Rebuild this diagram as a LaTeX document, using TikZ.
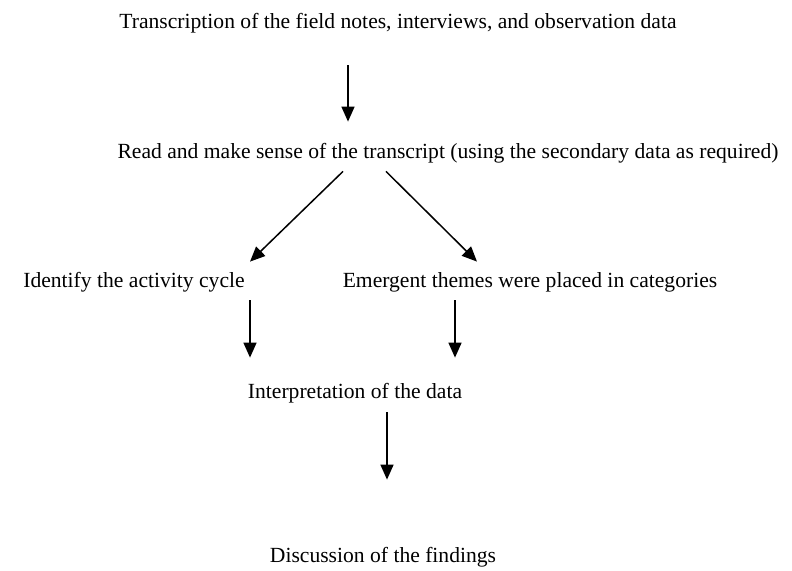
\documentclass[tikz,border=0pt]{standalone}
\usepackage{fontspec}
\setmainfont{Liberation Serif}
\usetikzlibrary{arrows.meta}
\begin{document}
\begin{tikzpicture}[x=0.5pt, y=-0.5pt, >={Triangle[length=7.5pt, width=6.5pt]},
  step text/.style={anchor=base, inner sep=0pt, text height=7pt, text depth=2.5pt,
    font=\fontsize{10.8}{12}\selectfont},
  flow/.style={->, line width=0.75pt}]
  \useasboundingbox (0,0) rectangle (792,570);
  \node[step text] (t1) at (398,28) {Transcription of the field notes, interviews, and observation data};
  \node[step text] (t2) at (448,158) {Read and make sense of the transcript (using the secondary data as required)};
  \node[step text] (t3) at (134,287) {Identify the activity cycle};
  \node[step text] (t4) at (530,287) {Emergent themes were placed in categories};
  \node[step text] (t5) at (355,398) {Interpretation of the data};
  \node[step text] (t6) at (383,562) {Discussion of the findings};
  \draw[flow] ([xshift=-25pt,yshift=-16pt]t1.south) -- ([xshift=-50pt,yshift=11pt]t2.north);
  \draw[flow] ([xshift=-52.5pt,yshift=-4pt]t2.south) -- ([xshift=58pt,yshift=5.5pt]t3.north);
  \draw[flow] ([xshift=-31pt,yshift=-4pt]t2.south) -- ([xshift=-26.5pt,yshift=5.5pt]t4.north);
  \draw[flow] ([xshift=58pt,yshift=-4pt]t3.south) -- ([xshift=-52.5pt,yshift=13pt]t5.north);
  \draw[flow] ([xshift=-37.5pt,yshift=-4pt]t4.south) -- ([xshift=50pt,yshift=13pt]t5.north);
  \draw[flow] ([xshift=16pt,yshift=-4.5pt]t5.south) -- ([xshift=2pt,yshift=34pt]t6.north);
\end{tikzpicture}
\end{document}
